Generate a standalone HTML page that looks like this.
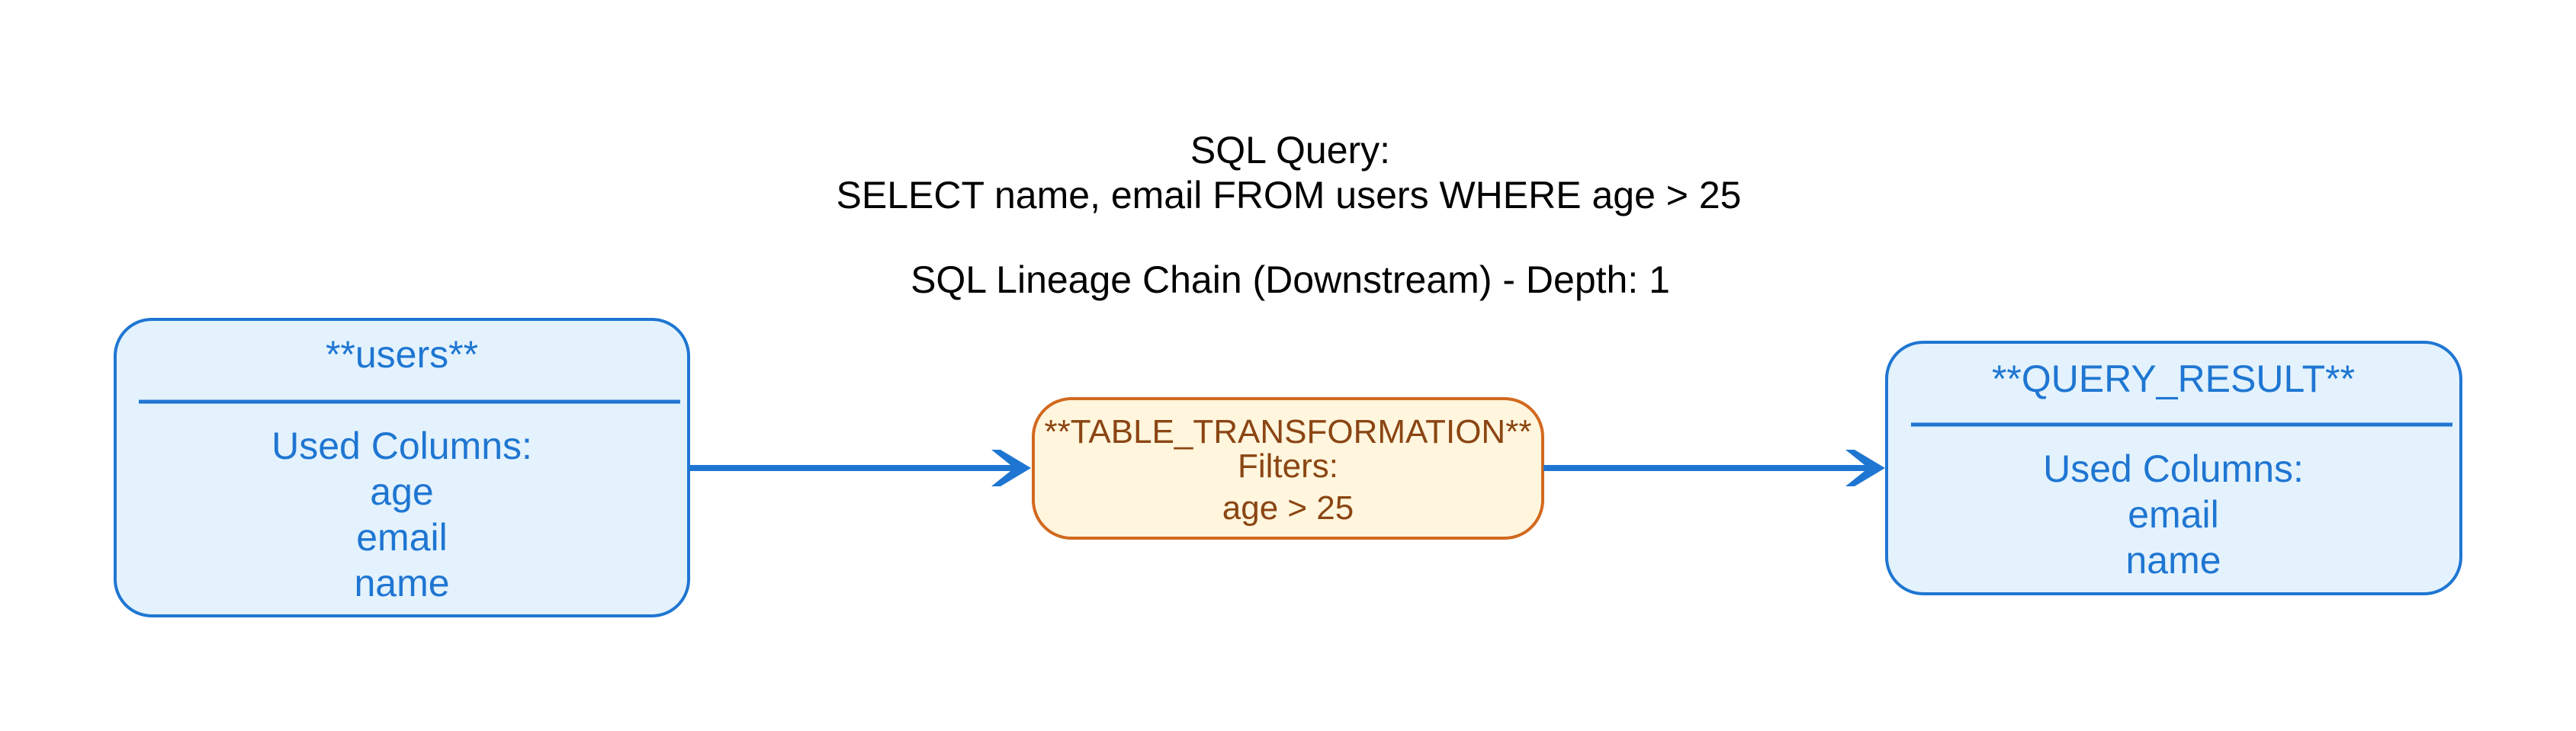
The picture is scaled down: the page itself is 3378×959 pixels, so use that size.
<!DOCTYPE html>
<html><head><meta charset="utf-8"><style>html,body{margin:0;padding:0;background:#fff}svg{display:block}</style></head>
<body>
<svg width="3378" height="959" viewBox="0 0 3378 959" xmlns="http://www.w3.org/2000/svg" font-family="Liberation Sans, Arial, sans-serif">
<g fill="#000" font-size="50" text-anchor="middle">
<text x="1692" y="214">SQL Query:</text>
<text x="1690" y="273">SELECT name, email FROM users WHERE age &gt; 25</text>
<text x="1692" y="384">SQL Lineage Chain (Downstream) - Depth: 1</text>
</g>
<!-- users -->
<rect x="151" y="419" width="752" height="389" rx="48" ry="48" fill="#e3f2fd" stroke="#1f76d2" stroke-width="4"/>
<line x1="182" y1="527" x2="892" y2="527" stroke="#1f76d2" stroke-width="5"/>
<g fill="#1f76d2" font-size="50" text-anchor="middle">
<text x="527" y="482">**users**</text>
<text x="527" y="602">Used Columns:</text>
<text x="527" y="662">age</text>
<text x="527" y="722">email</text>
<text x="527" y="782">name</text>
</g>
<!-- arrow 1 -->
<line x1="905" y1="614" x2="1340" y2="614" stroke="#1f76d2" stroke-width="8"/>
<polygon points="1300,590 1312,590 1352,614 1312,638 1300,638 1330,614" fill="#1f76d2"/>
<!-- mid -->
<rect x="1355" y="523" width="668" height="183" rx="50" ry="50" fill="#fff6dd" stroke="#d2691e" stroke-width="4"/>
<g fill="#8b4513" font-size="44" text-anchor="middle">
<text x="1689" y="581">**TABLE_TRANSFORMATION**</text>
<text x="1689" y="626">Filters:</text>
<text x="1689" y="681">age &gt; 25</text>
</g>
<!-- arrow 2 -->
<line x1="2024" y1="614" x2="2460" y2="614" stroke="#1f76d2" stroke-width="8"/>
<polygon points="2420,590 2432,590 2472,614 2432,638 2420,638 2450,614" fill="#1f76d2"/>
<!-- query result -->
<rect x="2474" y="449" width="753" height="330" rx="48" ry="48" fill="#e3f2fd" stroke="#1f76d2" stroke-width="4"/>
<line x1="2506" y1="557" x2="3216" y2="557" stroke="#1f76d2" stroke-width="5"/>
<g fill="#1f76d2" font-size="50" text-anchor="middle">
<text x="2850" y="514">**QUERY_RESULT**</text>
<text x="2850" y="632">Used Columns:</text>
<text x="2850" y="692">email</text>
<text x="2850" y="752">name</text>
</g>
</svg>
</body></html>
